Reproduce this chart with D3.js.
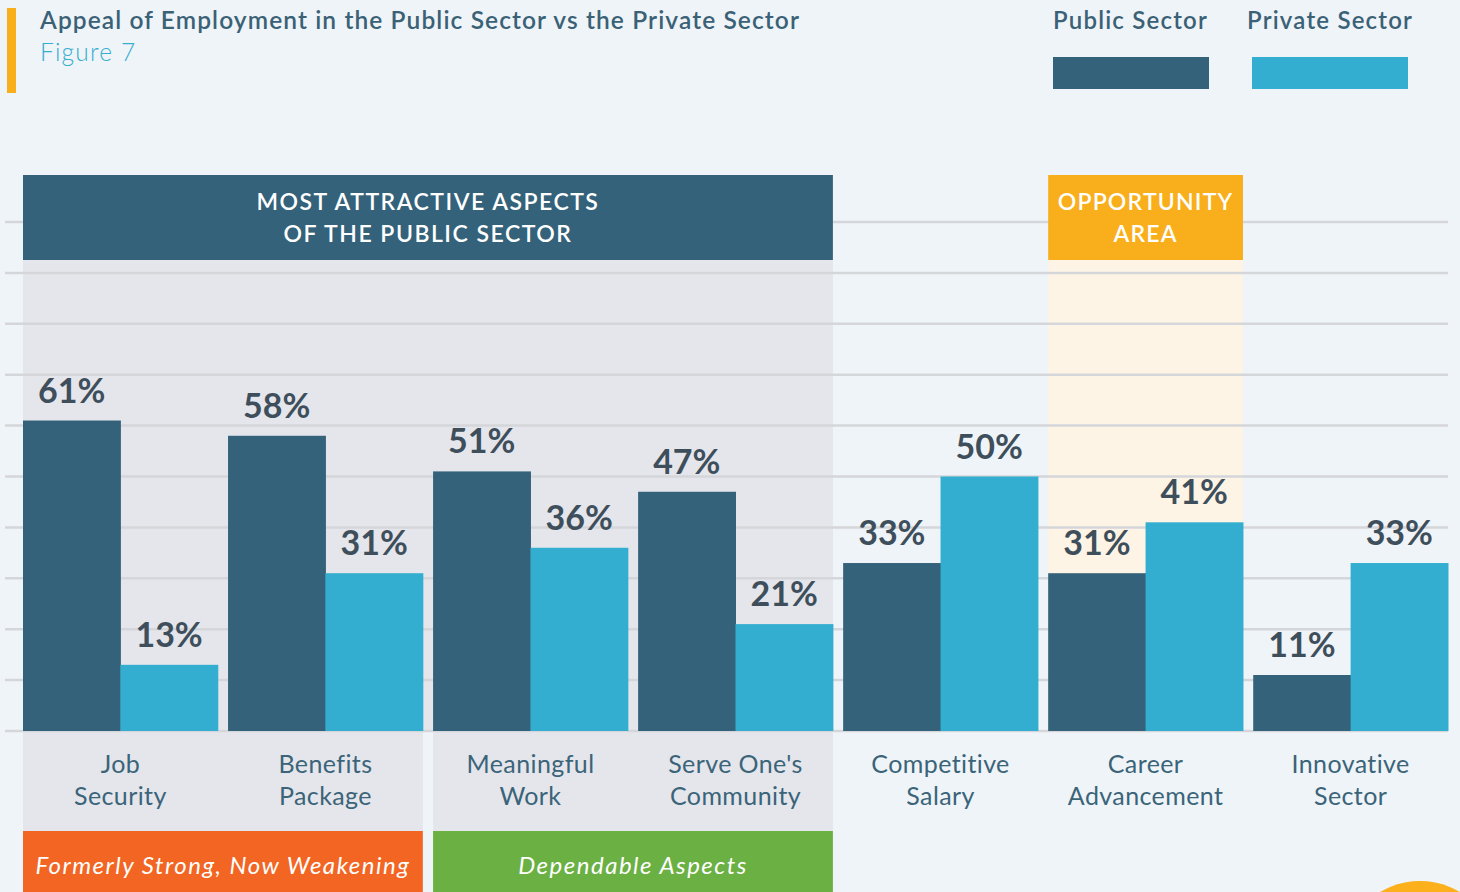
<!DOCTYPE html>
<html>
<head>
<meta charset="utf-8">
<script src="https://cdnjs.cloudflare.com/ajax/libs/d3/7.8.5/d3.min.js"></script>
<style>
  body { margin: 0; background: #eff4f8; }
  svg { display: block; font-family: Lato, "Open Sans", sans-serif; }
</style>
</head>
<body>
<div id="chart"></div>
<script>
const categories = [
    ["Job", "Security"],
    ["Benefits", "Package"],
    ["Meaningful", "Work"],
    ["Serve One's", "Community"],
    ["Competitive", "Salary"],
    ["Career", "Advancement"],
    ["Innovative", "Sector"]
]
const series = ["Public Sector", "Private Sector"]
const publicValues = [61, 58, 51, 47, 33, 31, 11]
const privateValues = [13, 31, 36, 21, 50, 41, 33]
const gridTicks = [10, 20, 30, 40, 50, 60, 70, 80, 90, 100]

const width = 1460
const height = 892
const colors = { "Public Sector": "#34627a", "Private Sector": "#33aed0" }

const svg = d3.select("#chart")
    .append("svg")
    .attr("width", width)
    .attr("height", height)

svg.append("rect").attr("width", width).attr("height", height).attr("fill", "#eff4f8")

const keys = categories.map(c => c.join(" "))
const x = d3.scaleBand().domain(keys).range([23, 1448]).paddingInner(0.05).paddingOuter(0)
const x1 = d3.scaleBand().domain(series).range([0, x.bandwidth()]).padding(0)
const y = d3.scaleLinear().domain([0, 100]).range([731, 222])

const left = i => x(keys[i])
const right = i => x(keys[i]) + x.bandwidth()

// grey panel behind the public sector strengths
svg.append("rect")
    .attr("x", left(0)).attr("y", 260)
    .attr("width", right(3) - left(0)).attr("height", y(0) - 260)
    .attr("fill", "#e4e6ec")
svg.selectAll("labelPanels")
    .data([[0, 1], [2, 3]])
    .enter()
    .append("rect")
    .attr("x", d => left(d[0]))
    .attr("y", y(0))
    .attr("width", d => right(d[1]) - left(d[0]))
    .attr("height", 831 - y(0))
    .attr("fill", "#e4e6ec")

// cream column for the opportunity area
svg.append("rect")
    .attr("x", left(5)).attr("y", 260)
    .attr("width", x.bandwidth()).attr("height", y(0) - 260)
    .attr("fill", "#fdf4e5")

// grid lines
svg.selectAll("gridLines")
    .data([0].concat(gridTicks))
    .enter()
    .append("line")
    .attr("x1", 5).attr("x2", 1448)
    .attr("y1", d => y(d)).attr("y2", d => y(d))
    .attr("stroke", "#d5d6da")
    .attr("stroke-width", 2.5)

// header boxes
svg.append("rect")
    .attr("x", left(0)).attr("y", 175)
    .attr("width", right(3) - left(0)).attr("height", 85)
    .attr("fill", "#34627a")
svg.append("rect")
    .attr("x", left(5)).attr("y", 175)
    .attr("width", x.bandwidth()).attr("height", 85)
    .attr("fill", "#f9ae1c")

function boxText(lines, cx, spacing) {
    const t = svg.append("text")
        .attr("text-anchor", "middle")
        .attr("fill", "white")
        .style("font-size", "23px")
        .style("font-weight", 600)
        .style("letter-spacing", spacing + "px")
    lines.forEach(function(l, i) {
        t.append("tspan").attr("x", cx).attr("y", 210 + i * 32).text(l)
    })
}
boxText(["MOST ATTRACTIVE ASPECTS", "OF THE PUBLIC SECTOR"], (left(0) + right(3)) / 2, 1.5)
boxText(["OPPORTUNITY", "AREA"], left(5) + x.bandwidth() / 2, 1.2)

// bars
const rows = keys.map(function(k, i) {
    return { key: k, values: [
        { series: "Public Sector", value: publicValues[i] },
        { series: "Private Sector", value: privateValues[i] }
    ] }
})

const groups = svg.selectAll("groups")
    .data(rows)
    .enter()
    .append("g")
    .attr("transform", d => "translate(" + x(d.key) + ",0)")

groups.selectAll("rect")
    .data(d => d.values)
    .enter()
    .append("rect")
    .attr("x", d => x1(d.series))
    .attr("y", d => y(d.value))
    .attr("width", x1.bandwidth() + 0.5)
    .attr("height", d => y(0) - y(d.value))
    .attr("fill", d => colors[d.series])

groups.selectAll("valueLabels")
    .data(d => d.values)
    .enter()
    .append("text")
    .attr("x", d => x1(d.series) + x1.bandwidth() / 2)
    .attr("y", d => y(d.value) - 18)
    .attr("text-anchor", "middle")
    .attr("fill", "#3e4f5b")
    .style("font-size", "34px")
    .style("font-weight", 700)
    .text(d => d.value + "%")

// category labels
const catLabels = svg.selectAll("catLabels")
    .data(categories)
    .enter()
    .append("text")
    .attr("text-anchor", "middle")
    .attr("fill", "#3b6479")
    .style("font-size", "25px")
    .style("letter-spacing", "0.4px")
catLabels.each(function(d, i) {
    const cx = x(keys[i]) + x.bandwidth() / 2
    d3.select(this).selectAll("tspan")
        .data(d)
        .enter()
        .append("tspan")
        .attr("x", cx)
        .attr("y", (l, j) => 773 + j * 32)
        .text(l => l)
})

// bottom tags
const tags = [
    { text: "Formerly Strong, Now Weakening", from: 0, to: 1, color: "#f26522" },
    { text: "Dependable Aspects", from: 2, to: 3, color: "#6ab043" }
]
svg.selectAll("tagBoxes")
    .data(tags)
    .enter()
    .append("rect")
    .attr("x", d => left(d.from))
    .attr("y", 831)
    .attr("width", d => right(d.to) - left(d.from))
    .attr("height", height - 831)
    .attr("fill", d => d.color)
svg.selectAll("tagTexts")
    .data(tags)
    .enter()
    .append("text")
    .attr("x", d => (left(d.from) + right(d.to)) / 2)
    .attr("y", 874)
    .attr("text-anchor", "middle")
    .attr("fill", "white")
    .style("font-size", "24px")
    .style("font-style", "italic")
    .style("letter-spacing", "1.5px")
    .text(d => d.text)

// title
svg.append("rect").attr("x", 7).attr("y", 8).attr("width", 9).attr("height", 85).attr("fill", "#f9ae1c")
svg.append("text")
    .attr("x", 40).attr("y", 29)
    .attr("fill", "#3a6176")
    .style("font-size", "24.5px")
    .style("font-weight", 600)
    .style("letter-spacing", "1.1px")
    .text("Appeal of Employment in the Public Sector vs the Private Sector")
svg.append("text")
    .attr("x", 40).attr("y", 61)
    .attr("fill", "#35aed0")
    .style("font-size", "24.5px")
    .style("font-weight", 300)
    .style("letter-spacing", "1.2px")
    .text("Figure 7")

// legend
const legend = svg.selectAll("legend")
    .data(series)
    .enter()
    .append("g")
    .attr("transform", (d, i) => "translate(" + (1053 + i * 199) + ",0)")
legend.append("text")
    .attr("x", (d, i) => i === 0 ? 0 : -5)
    .attr("y", 29)
    .attr("fill", "#3a6176")
    .style("font-size", "24px")
    .style("font-weight", 600)
    .style("letter-spacing", "1.2px")
    .text(d => d)
legend.append("rect")
    .attr("y", 57)
    .attr("width", 156)
    .attr("height", 32)
    .attr("fill", d => colors[d])

// page marker circle
svg.append("circle").attr("cx", 1420).attr("cy", 959).attr("r", 78).attr("fill", "#fbb01c")
</script>
</body>
</html>
